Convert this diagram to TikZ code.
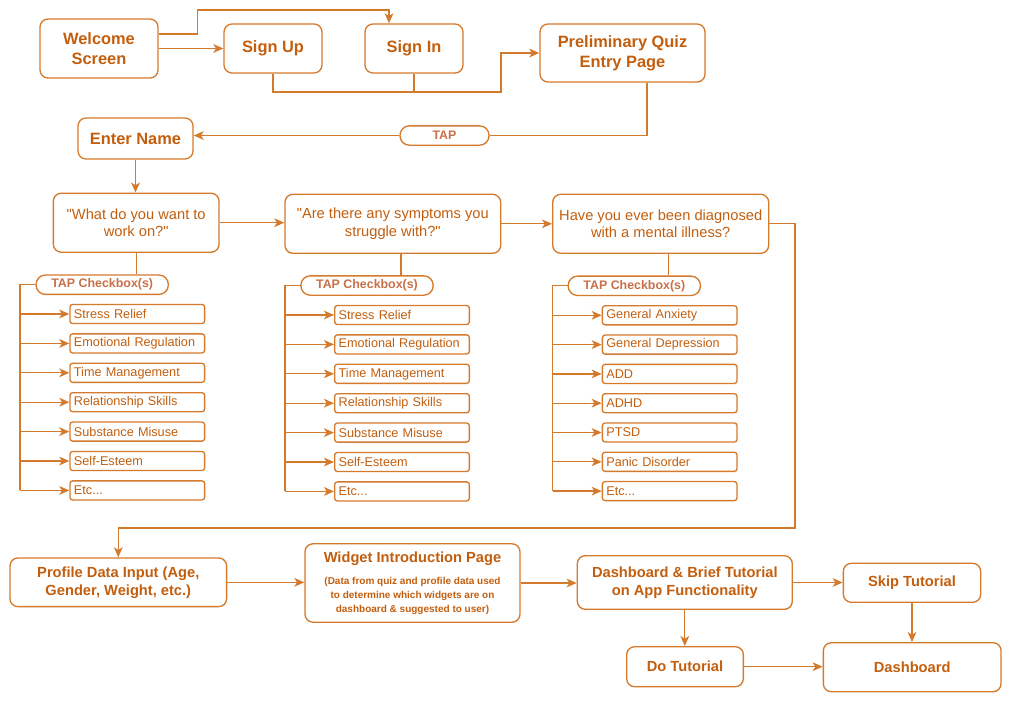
\documentclass[tikz,border=0pt]{standalone}
\usepackage{fontspec}
\setmainfont{Liberation Sans}
\usetikzlibrary{arrows.meta,positioning,calc}
\definecolor{flowline}{RGB}{212,122,44}
\definecolor{flowtext}{RGB}{194,94,14}
\definecolor{taptext}{RGB}{200,112,72}
\newcommand{\etcitem}{Etc...}
\tikzset{
    %Define standard arrow tip
    >={Stealth[length=7.5pt,width=6.5pt,inset=2pt]},
    %Define style for boxes
    block/.style={
           rectangle,
           rounded corners=6pt,
           draw=flowline, line width=1pt,
           text=flowtext,
           font=\bfseries\fontsize{12.3}{15}\selectfont,
           inner sep=0pt,
           align=center},
    question/.style={
           block,
           font=\fontsize{11}{13.3}\selectfont},
    lower/.style={
           block,
           font=\bfseries\fontsize{11}{13.6}\selectfont},
    pill/.style={
           rectangle,
           rounded corners=7pt,
           draw=flowline, line width=1pt,
           text=taptext,
           font=\bfseries\fontsize{9.3}{11}\selectfont,
           inner sep=0pt,
           minimum height=14.5pt},
    option/.style={
           rectangle,
           rounded corners=2pt,
           draw=flowline, line width=1pt,
           text=flowtext,
           font=\fontsize{9.5}{11}\selectfont,
           minimum width=101pt, minimum height=14.3pt,
           text width=95pt, inner xsep=3pt, inner ysep=0pt,
           align=left, anchor=west},
    % Define arrow style
    line/.style={
           draw=flowline,
           line width=1pt},
    arrow/.style={
           line,
           ->},
}
\begin{document}
\begin{tikzpicture}[x=0.75pt,y=-0.75pt]
\useasboundingbox (0,0) rectangle (1013,704);

\node[block, minimum width=88.5pt, minimum height=44.25pt]  (welcome)  at (99,48.5)   {Welcome\\Screen};
\node[block, minimum width=73.5pt, minimum height=36.75pt]  (signup)   at (273,48.5)  {Sign Up};
\node[block, minimum width=73.5pt, minimum height=36.75pt]  (signin)   at (414,48.5)  {Sign In};
\node[block, minimum width=123.75pt, minimum height=43.5pt] (prelim)   at (622.5,53)  {Preliminary Quiz\\Entry Page};
\node[pill, minimum width=66.75pt]                          (tap)      at (444.5,135.5) {TAP};
\node[block, minimum width=86.25pt, minimum height=30.75pt] (entername) at (135.5,138.5) {Enter Name};

\node[question, minimum width=124.3pt, minimum height=44.25pt] (q1) at (136.2,222.7) {\textquotedbl What do you want to\\work on?\textquotedbl};
\node[question, minimum width=161.8pt, minimum height=44.25pt] (q2) at (392.8,223.8) {\textquotedbl Are there any symptoms you\\struggle with?\textquotedbl};
\node[question, minimum width=162pt, minimum height=44.25pt]   (q3) at (660.7,223.8) {Have you ever been diagnosed\\with a mental illness?};

\node[pill, minimum width=99.2pt] (tapA) at (102.2,284.7) {TAP Checkbox(s)};
\node[pill, minimum width=99.2pt] (tapB) at (367,285.5)   {TAP Checkbox(s)};
\node[pill, minimum width=99.2pt] (tapC) at (634.3,285.8) {TAP Checkbox(s)};

\foreach \txt [count=\i] in {Stress Relief, Emotional Regulation, Time Management, Relationship Skills, Substance Misuse, Self-Esteem, \etcitem}
    \node[option] (work\i) at (69.3,{314+29.4*(\i-1)}) {\txt};
\foreach \txt [count=\i] in {Stress Relief, Emotional Regulation, Time Management, Relationship Skills, Substance Misuse, Self-Esteem, \etcitem}
    \node[option] (symp\i) at (334,{315+29.4*(\i-1)}) {\txt};
\foreach \txt [count=\i] in {General Anxiety, General Depression, ADD, ADHD, PTSD, Panic Disorder, \etcitem}
    \node[option] (diag\i) at (601.7,{315.3+29.3*(\i-1)}) {\txt};

\node[lower, minimum width=162.5pt, minimum height=36.5pt]  (profile)   at (118.3,582.3) {Profile Data Input (Age,\\Gender, Weight, etc.)};
\node[lower, minimum width=161.25pt, minimum height=58.8pt, font=\bfseries\fontsize{7.5}{10.3}\selectfont] (widget) at (412.5,583)
     {{\fontsize{11}{13}\selectfont Widget Introduction Page}\\[6.5pt](Data from quiz and profile data used\\to determine which widgets are on\\dashboard \& suggested to user)};
\node[lower, minimum width=161.25pt, minimum height=40.2pt] (dashbrief) at (684.8,582.5) {Dashboard \& Brief Tutorial\\on App Functionality};
\node[lower, minimum width=103pt, minimum height=29.25pt]   (skip)      at (912,582.8)   {Skip Tutorial};
\node[lower, minimum width=87.5pt, minimum height=30pt]     (dotut)     at (685,666.7)   {Do Tutorial};
\node[lower, minimum width=133.3pt, minimum height=36.75pt] (dashboard) at (912.2,667.2) {Dashboard};

\coordinate (joint) at (501,92);
\coordinate (trunkA) at (20,490.4);
\coordinate (trunkB) at (285,491.4);
\coordinate (trunkC) at (552.7,491.1);
\coordinate (loop) at (795,528);

\draw[arrow] (welcome.east) -- (signup.west);
\draw[arrow] ($(welcome.east)+(0,-14.5)$) -- ++(39,0) -- ++(0,-24) -| ($(signin.north)+(-25,0)$);
\draw[arrow] (signup.south) |- (joint) |- (prelim.west);
\draw[line] (signin.south) -- (signin.south |- joint);
\draw[line] ($(prelim.south)+(24.5,0)$) |- (tap.east);
\draw[arrow] (tap.west) -- (tap.west -| entername.east);
\draw[arrow] (entername.south) -- (entername.south |- q1.north);
\draw[arrow] (q1.east) -- (q1.east -| q2.west);
\draw[arrow] (q2.east) -- (q2.east -| q3.west);

\draw[line] (q1.south) -- (q1.south |- tapA.north);
\draw[line] ($(q2.south)+(8.3,0)$) -- ($(q2.south |- tapB.north)+(8.3,0)$);
\draw[line] ($(q3.south)+(7.5,0)$) -- ($(q3.south |- tapC.north)+(7.5,0)$);
\draw[line] (tapA.west) -| (trunkA);
\draw[line] (tapB.west) -| (trunkB);
\draw[line] (tapC.west) -| (trunkC);
\foreach \i in {1,...,7}{
    \draw[arrow] (trunkA |- work\i.west) -- (work\i.west);
    \draw[arrow] (trunkB |- symp\i.west) -- (symp\i.west);
    \draw[arrow] (trunkC |- diag\i.west) -- (diag\i.west);
}

\draw[arrow] (q3.east) -| (loop) -| (profile.north);
\draw[arrow] (profile.east) -- (profile.east -| widget.west);
\draw[arrow] (widget.east) -- (widget.east -| dashbrief.west);
\draw[arrow] (dashbrief.east) -- (dashbrief.east -| skip.west);
\draw[arrow] (dashbrief.south) -- (dashbrief.south |- dotut.north);
\draw[arrow] (skip.south) -- (skip.south |- dashboard.north);
\draw[arrow] (dotut.east) -- (dotut.east -| dashboard.west);
\end{tikzpicture}
\end{document}
